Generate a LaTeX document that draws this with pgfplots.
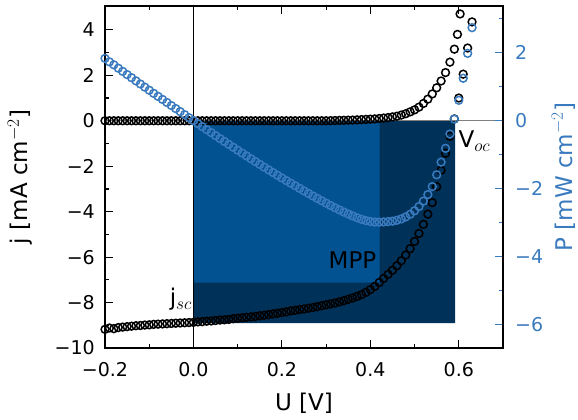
\documentclass[border=0pt]{standalone}
\usepackage{fontspec}
\setmainfont{DejaVu Sans}
\usepackage{pgfplots}
\pgfplotsset{compat=1.18}
\definecolor{pblue}{RGB}{58,122,190}
\definecolor{rlight}{RGB}{2,82,145}
\definecolor{rdark}{RGB}{0,49,89}
\begin{document}
\begin{tikzpicture}
\begin{axis}[name=ax1,
  scale only axis, width=398pt, height=342pt,
  xmin=-0.2, xmax=0.7, ymin=-10, ymax=5.05,
  xtick={-0.2,0,0.2,0.4,0.6}, xticklabels={−0.2,0.0,0.2,0.4,0.6},
  minor xtick={-0.1,0.1,0.3,0.5},
  ytick={-10,-8,-6,-4,-2,0,2,4}, yticklabels={−10,−8,−6,−4,−2,0,2,4},
  minor ytick={-9,-7,-5,-3,-1,1,3},
  ytick pos=left, xtick pos=both,
  tick align=inside,
  major tick length=8pt, minor tick length=4pt,
  every tick/.style={black, line width=1.2pt},
  axis line style={line width=1.5pt},
  tick label style={font=\fontsize{19}{22}\selectfont, inner sep=0pt},
  xticklabel style={yshift=-14pt},
  yticklabel style={xshift=-10pt},
  label style={font=\fontsize{23}{27}\selectfont},
  xlabel={U [V]}, ylabel={j [mA cm$^{-2}$]},
  xlabel style={at={(axis description cs:0.5,-0.1813)}, anchor=base, inner sep=0pt},
  ylabel style={at={(axis description cs:-0.1935,0.5)}, anchor=base, inner sep=0pt},
]
% rectangles (Voc x jsc, and MPP)
\addplot[draw=none, fill=rdark] coordinates {(0,0) (0.592,0) (0.592,-8.9) (0,-8.9)} \closedcycle;
\addplot[draw=none, fill=rlight] coordinates {(0,0) (0.421,0) (0.421,-7.12) (0,-7.12)} \closedcycle;
% zero lines
\addplot[black, line width=0.8pt] coordinates {(0,-10) (0,5.05)};
\addplot[gray, line width=0.8pt] coordinates {(-0.2,0) (0.7,0)};
% dark curve
\addplot[only marks, mark=o, mark size=3.9pt, black, mark options={line width=1.5pt}] coordinates {
(-0.20,0) (-0.19,0) (-0.18,0) (-0.17,0) (-0.16,0) (-0.15,0) (-0.14,0) (-0.13,0) (-0.12,0) (-0.11,0)
(-0.10,0) (-0.09,0) (-0.08,0) (-0.07,0) (-0.06,0) (-0.05,0) (-0.04,0) (-0.03,0) (-0.02,0) (-0.01,0)
(0.00,0) (0.01,0) (0.02,0) (0.03,0) (0.04,0) (0.05,0) (0.06,0) (0.07,0) (0.08,0) (0.09,0)
(0.10,0) (0.11,0) (0.12,0) (0.13,0) (0.14,0) (0.15,0) (0.16,0) (0.17,0) (0.18,0) (0.19,0)
(0.20,0) (0.21,0) (0.22,0) (0.23,0) (0.24,0) (0.25,0) (0.26,0) (0.27,0) (0.28,0) (0.29,0)
(0.30,0) (0.31,0.005) (0.32,0.01) (0.33,0.015) (0.34,0.02) (0.35,0.025) (0.36,0.03) (0.37,0.04) (0.38,0.05) (0.39,0.06)
(0.40,0.07) (0.41,0.08) (0.42,0.10) (0.43,0.12) (0.44,0.14) (0.45,0.17) (0.46,0.20) (0.47,0.25) (0.48,0.31) (0.49,0.39)
(0.50,0.48) (0.51,0.60) (0.52,0.76) (0.53,0.95) (0.54,1.18) (0.55,1.45) (0.56,1.75) (0.57,2.12) (0.58,2.58) (0.59,3.15)
(0.597,3.80) (0.603,4.70)
};
% illuminated curve
\addplot[only marks, mark=o, mark size=3.9pt, black, mark options={line width=1.5pt}] coordinates {
(-0.20,-9.18) (-0.19,-9.12) (-0.18,-9.15) (-0.17,-9.10) (-0.16,-9.08) (-0.15,-9.06) (-0.14,-9.04) (-0.13,-9.02) (-0.12,-9.01) (-0.11,-8.99)
(-0.10,-8.98) (-0.09,-8.96) (-0.08,-8.95) (-0.07,-8.94) (-0.06,-8.93) (-0.05,-8.92) (-0.04,-8.91) (-0.03,-8.90) (-0.02,-8.89) (-0.01,-8.88)
(0.00,-8.87) (0.01,-8.85) (0.02,-8.84) (0.03,-8.82) (0.04,-8.81) (0.05,-8.79) (0.06,-8.77) (0.07,-8.76) (0.08,-8.74) (0.09,-8.71)
(0.10,-8.69) (0.11,-8.67) (0.12,-8.65) (0.13,-8.63) (0.14,-8.61) (0.15,-8.58) (0.16,-8.56) (0.17,-8.53) (0.18,-8.50) (0.19,-8.47)
(0.20,-8.44) (0.21,-8.41) (0.22,-8.37) (0.23,-8.34) (0.24,-8.31) (0.25,-8.28) (0.26,-8.25) (0.27,-8.22) (0.28,-8.18) (0.29,-8.14)
(0.30,-8.10) (0.31,-8.06) (0.32,-8.02) (0.33,-7.97) (0.34,-7.92) (0.35,-7.86) (0.36,-7.80) (0.37,-7.73) (0.38,-7.65) (0.39,-7.55)
(0.40,-7.43) (0.41,-7.29) (0.42,-7.12) (0.43,-6.94) (0.44,-6.76) (0.45,-6.58) (0.46,-6.38) (0.47,-6.16) (0.48,-5.91) (0.49,-5.63)
(0.50,-5.31) (0.51,-4.96) (0.52,-4.56) (0.53,-4.11) (0.54,-3.60) (0.55,-2.90) (0.56,-2.18) (0.57,-1.43) (0.58,-0.68) (0.59,0.08)
(0.60,1.00) (0.61,2.05) (0.62,3.20) (0.63,4.35)
};
\node[anchor=base east, inner sep=0pt, font=\fontsize{23}{27}\selectfont] at (axis cs:-0.003,-8.13) {j$_{sc}$};
\node[anchor=base east, inner sep=0pt, font=\fontsize{23}{27}\selectfont] at (axis cs:0.414,-6.5) {MPP};
\node[anchor=base west, inner sep=0pt, font=\fontsize{23}{27}\selectfont] at (axis cs:0.599,-1.19) {V$_{oc}$};
\end{axis}
\begin{axis}[name=ax2,
  scale only axis, width=398pt, height=342pt,
  xmin=-0.2, xmax=0.7, ymin=-6.7, ymax=3.38,
  hide x axis, axis y line*=right,
  y axis line style={black, line width=1.5pt, -},
  ytick={-6,-4,-2,0,2}, yticklabels={−6,−4,−2,0,2},
  minor ytick={-5,-3,-1,1,3},
  tick align=inside,
  major tick length=8pt, minor tick length=4pt,
  every tick/.style={pblue, line width=1.2pt},
  tick label style={font=\fontsize{19}{22}\selectfont, inner sep=0pt, text=pblue},
  yticklabel style={xshift=12pt},
  label style={font=\fontsize{23}{27}\selectfont},
  ylabel={P [mW cm$^{-2}$]},
  ylabel style={at={(axis description cs:1.1734,0.5)}, anchor=base, inner sep=0pt, text=pblue},
]
\addplot[only marks, mark=o, mark size=3.9pt, pblue, mark options={line width=1.5pt}] coordinates {
(-0.20,1.836) (-0.19,1.733) (-0.18,1.647) (-0.17,1.547) (-0.16,1.453) (-0.15,1.359) (-0.14,1.266) (-0.13,1.173) (-0.12,1.081) (-0.11,0.989)
(-0.10,0.898) (-0.09,0.806) (-0.08,0.716) (-0.07,0.626) (-0.06,0.536) (-0.05,0.446) (-0.04,0.356) (-0.03,0.267) (-0.02,0.178) (-0.01,0.089)
(0.00,0.000) (0.01,-0.089) (0.02,-0.177) (0.03,-0.265) (0.04,-0.352) (0.05,-0.440) (0.06,-0.526) (0.07,-0.613) (0.08,-0.699) (0.09,-0.784)
(0.10,-0.869) (0.11,-0.954) (0.12,-1.038) (0.13,-1.122) (0.14,-1.205) (0.15,-1.287) (0.16,-1.370) (0.17,-1.450) (0.18,-1.530) (0.19,-1.609)
(0.20,-1.688) (0.21,-1.766) (0.22,-1.841) (0.23,-1.918) (0.24,-1.994) (0.25,-2.070) (0.26,-2.145) (0.27,-2.219) (0.28,-2.290) (0.29,-2.361)
(0.30,-2.430) (0.31,-2.499) (0.32,-2.566) (0.33,-2.630) (0.34,-2.693) (0.35,-2.751) (0.36,-2.808) (0.37,-2.860) (0.38,-2.907) (0.39,-2.945)
(0.40,-2.972) (0.41,-2.989) (0.42,-2.990) (0.43,-2.984) (0.44,-2.974) (0.45,-2.961) (0.46,-2.935) (0.47,-2.895) (0.48,-2.837) (0.49,-2.759)
(0.50,-2.655) (0.51,-2.530) (0.52,-2.371) (0.53,-2.178) (0.54,-1.944) (0.55,-1.595) (0.56,-1.221) (0.57,-0.815) (0.58,-0.394) (0.59,0.047)
(0.60,0.600) (0.61,1.251) (0.62,1.984) (0.63,2.741)
};
\end{axis}
\pgfresetboundingbox
\path ([xshift=-105pt,yshift=-71pt]ax1.south west) rectangle ([xshift=75pt,yshift=6pt]ax1.north east);
\end{tikzpicture}
\end{document}
